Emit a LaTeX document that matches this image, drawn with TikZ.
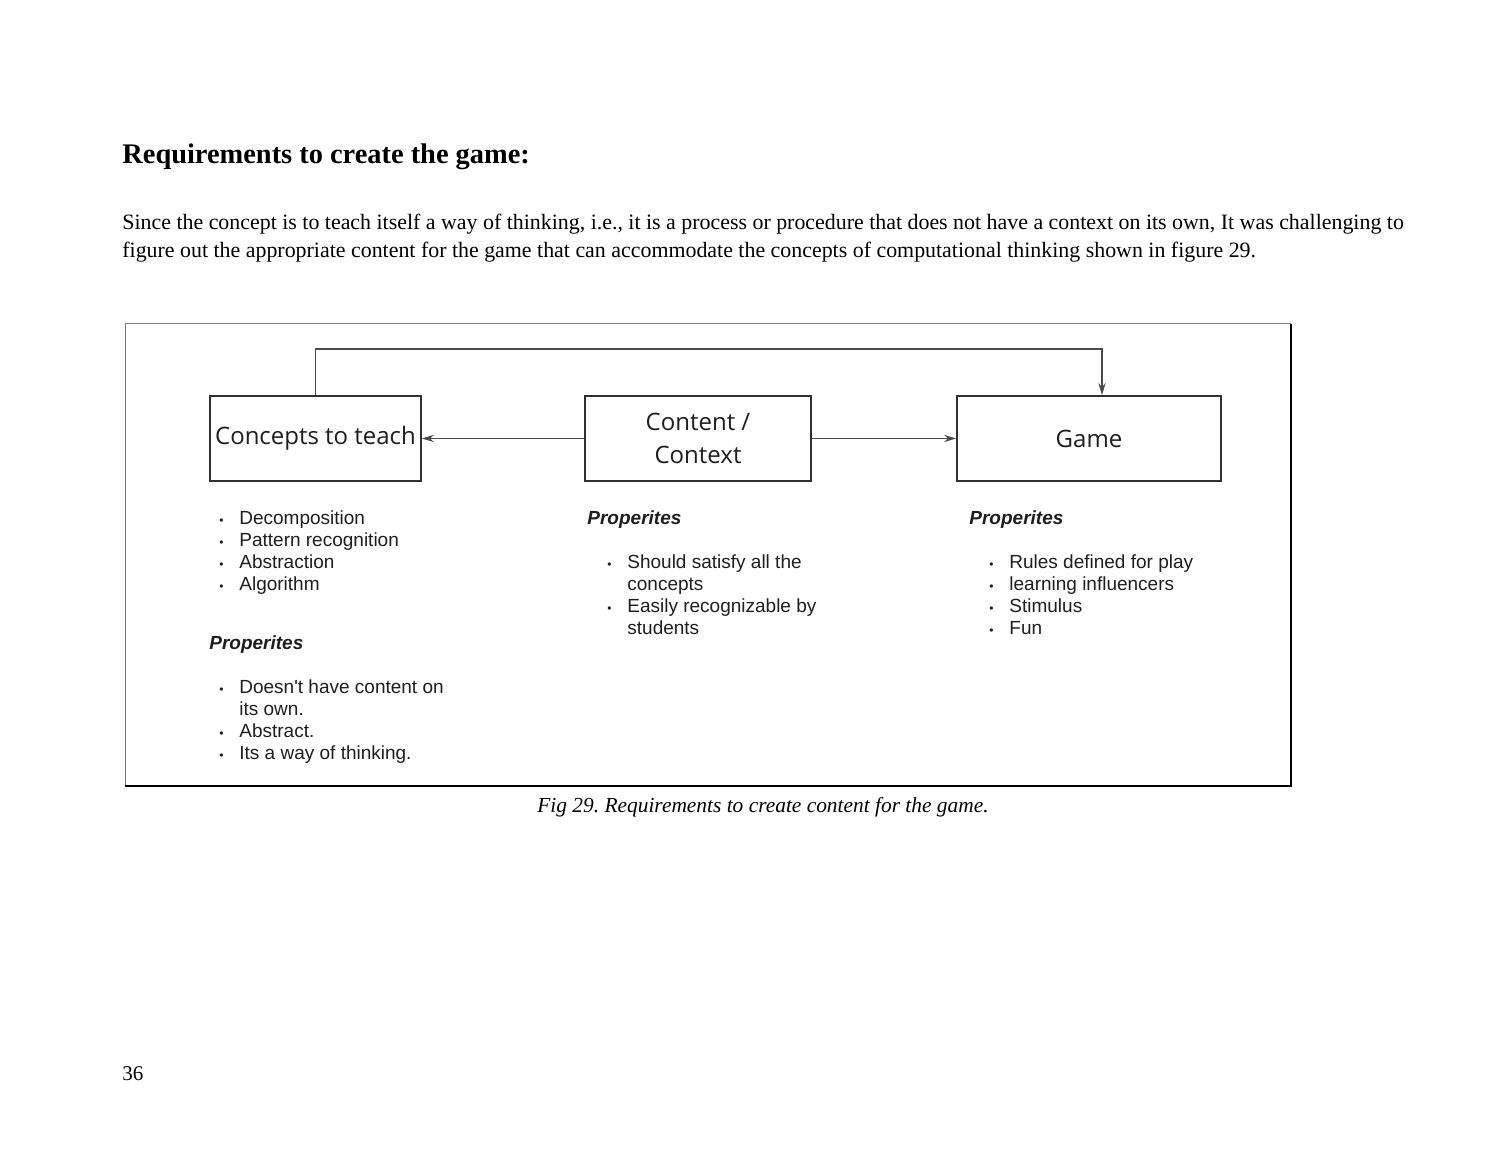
\documentclass[tikz,border=0pt]{standalone}
\usepackage{fontspec}
\setmainfont{Liberation Serif}
\newfontfamily\boxfont{Open Sans}
\newfontfamily\listfont{Liberation Sans}
\usetikzlibrary{arrows.meta,positioning}
\definecolor{Ink}{HTML}{1E1E1E}
\definecolor{Edge}{HTML}{303030}
\definecolor{Wire}{HTML}{4A4A4A}
\definecolor{Frame}{HTML}{7A7A7A}
\newcommand{\dotmark}{{\fontsize{6}{6}\selectfont\textbullet}}

\begin{document}
\begin{tikzpicture}[x=0.5pt,y=-0.5pt,
  stage/.style={draw=Edge,line width=0.9pt,minimum height=42.5pt,inner sep=0pt,
    font=\boxfont\fontsize{12}{16.5}\selectfont,text=Ink,align=center},
  wire/.style={draw=Wire,line width=0.55pt,-{Stealth[length=6pt,width=3.6pt]}},
  lst/.style={anchor=base west,inner sep=0pt,font=\listfont\fontsize{9.5}{11}\selectfont,text=Ink},
  hdr/.style={anchor=base west,inner sep=0pt,font=\listfont\bfseries\itshape\fontsize{9.5}{11}\selectfont,text=Ink},
  page/.style={anchor=base west,inner sep=0pt,text=black}]
  \useasboundingbox (0,0) rectangle (1500,1159);
  % page text
  \node[page,font=\bfseries\fontsize{14.2}{17}\selectfont] (title) at (122,164) {Requirements to create the game:};
  \node[page,align=left,font=\fontsize{10.95}{14}\selectfont] (para) at (122,258)
    {Since the concept is to teach itself a way of thinking, i.e., it is a process or procedure that does not have a context on its own, It was challenging to\\
     figure out the appropriate content for the game that can accommodate the concepts of computational thinking shown in figure 29.};
  % frame of the figure
  \draw[Frame,line width=0.5pt] (125,786) -- (125,324) -- (1291,324);
  \draw[black,line width=1.1pt] (125,786) -- (1291,786) -- (1291,324);
  % boxes
  \node[stage,minimum width=105.5pt] (concepts) at (315.5,438.5) {Concepts to teach};
  \node[stage,minimum width=113pt] (content) at (698,438.5) {Content /\\Context};
  \node[stage,minimum width=132pt] (game) at (1089,438.5) {Game};
  \coordinate (loop) at (1102,349);
  \draw[wire] (content.west) -- (concepts.east);
  \draw[wire] (content.east) -- (game.west);
  \draw[wire] (concepts.north) |- (loop) -- (loop |- game.north);
  % lists
  \node[lst] (ctlist) at (219,525) {\begin{tabular}[t]{@{}l@{\hspace{7.9pt}}l@{}}
    \dotmark & Decomposition\\ \dotmark & Pattern recognition\\
    \dotmark & Abstraction\\ \dotmark & Algorithm\end{tabular}};
  \node[hdr] (cthdr) at (209,650) {Properites};
  \node[lst] (ctprop) at (219,694) {\begin{tabular}[t]{@{}l@{\hspace{7.9pt}}l@{}}
    \dotmark & Doesn't have content on\\ & its own.\\
    \dotmark & Abstract.\\ \dotmark & Its a way of thinking.\end{tabular}};
  \node[hdr] (cnhdr) at (587,525) {Properites};
  \node[lst] (cnprop) at (607,569) {\begin{tabular}[t]{@{}l@{\hspace{7.9pt}}l@{}}
    \dotmark & Should satisfy all the\\ & concepts\\
    \dotmark & Easily recognizable by\\ & students\end{tabular}};
  \node[hdr] (gmhdr) at (969,525) {Properites};
  \node[lst] (gmprop) at (989,569) {\begin{tabular}[t]{@{}l@{\hspace{7.9pt}}l@{}}
    \dotmark & Rules defined for play\\ \dotmark & learning influencers\\
    \dotmark & Stimulus\\ \dotmark & Fun\end{tabular}};
  % caption and page number
  \node[page,anchor=base,font=\itshape\fontsize{10.7}{13}\selectfont] (caption) at (763,813) {Fig 29.\ Requirements to create content for the game.};
  \node[page,font=\fontsize{10.5}{13}\selectfont] (pagenum) at (122,1080) {36};
\end{tikzpicture}
\end{document}
